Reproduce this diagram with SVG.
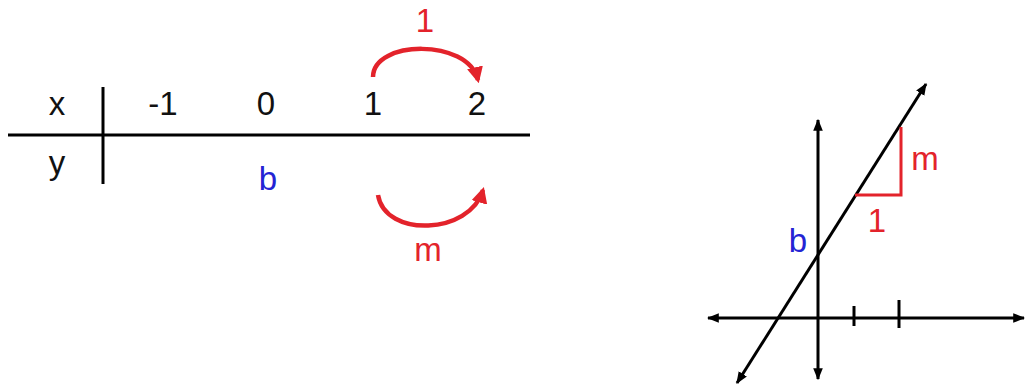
<svg xmlns="http://www.w3.org/2000/svg" width="1026" height="387" viewBox="0 0 1026 387">
<style>
.t{font-family:"Liberation Sans",Arial,sans-serif;font-size:33px;text-anchor:middle}
.k{fill:#111}
.r{fill:#e3232b}
.b{fill:#2424d4}
.ln{stroke:#000;stroke-width:3;fill:none}
.rl{stroke:#e3232b;stroke-width:4.5;fill:none}
</style>
<defs>
<marker id="ra" viewBox="0 0 10 10" refX="8" refY="5" markerWidth="3.6" markerHeight="3.6" orient="auto" markerUnits="strokeWidth">
<path d="M0,0 L10,5 L0,10 z" fill="#e3232b"/>
</marker>
<marker id="ka" viewBox="0 0 10 10" refX="9" refY="5" markerWidth="4" markerHeight="4" orient="auto-start-reverse" markerUnits="strokeWidth">
<path d="M0,1 L10,5 L0,9 z" fill="#000"/>
</marker>
</defs>
<g id="table">
<line class="ln" x1="8" y1="135" x2="530" y2="135"/>
<line class="ln" x1="103" y1="87" x2="103" y2="184"/>
<text class="t k" x="57" y="115">x</text>
<text class="t k" x="57" y="174">y</text>
<text class="t k" x="163" y="115">-1</text>
<text class="t k" x="266" y="115">0</text>
<text class="t k" x="373" y="115">1</text>
<text class="t k" x="477" y="115">2</text>
<text class="t b" x="268" y="190">b</text>
</g>
<g id="connectors">
<path class="rl" d="M373,77 C373,40 468,38 478,80" marker-end="url(#ra)"/>
<path class="rl" d="M378,195 C385,238 470,235 483,190" marker-end="url(#ra)"/>
</g>
<g id="labels">
<text class="t r" x="425" y="32">1</text>
<text class="t r" x="428" y="261">m</text>
</g>
<g id="graph">
<line class="ln" x1="708" y1="318" x2="1024" y2="318" marker-start="url(#ka)" marker-end="url(#ka)"/>
<line class="ln" x1="818" y1="120" x2="818" y2="379" marker-start="url(#ka)" marker-end="url(#ka)"/>
<line class="ln" x1="854" y1="306" x2="854" y2="326"/>
<line class="ln" x1="899" y1="300" x2="899" y2="328"/>
<line class="ln" x1="737" y1="383" x2="926" y2="84" marker-start="url(#ka)" marker-end="url(#ka)"/>
<polyline class="rl" points="855,195 901,195 901,127" style="stroke-width:3"/>
<text class="t r" x="925" y="170">m</text>
<text class="t r" x="877" y="232">1</text>
<text class="t b" x="798" y="252">b</text>
</g>
</svg>
